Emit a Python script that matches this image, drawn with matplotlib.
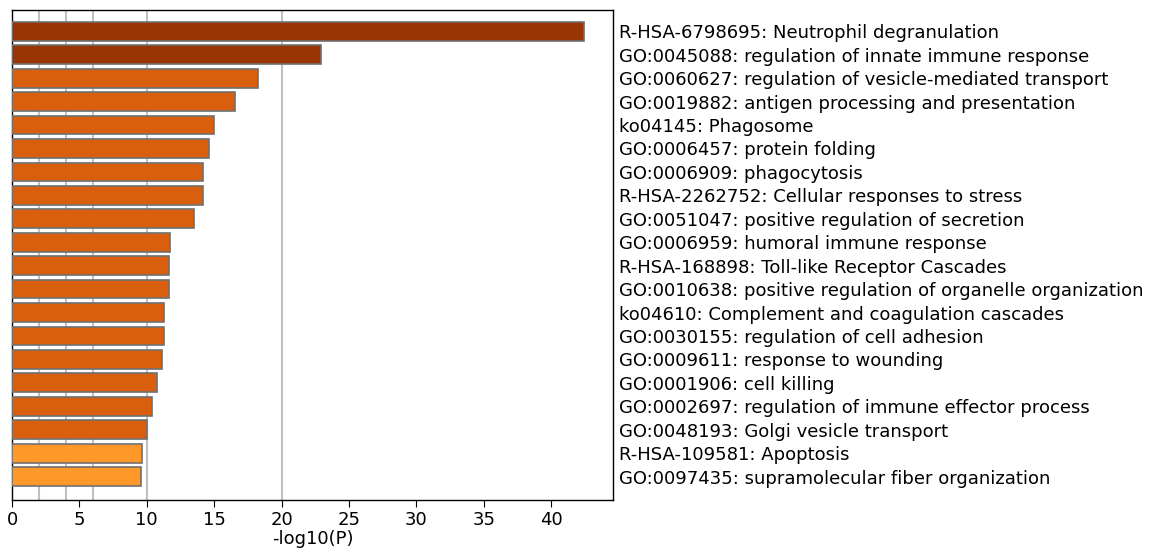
import matplotlib
matplotlib.use("Agg")
import matplotlib.pyplot as plt

terms = [
    "R-HSA-6798695: Neutrophil degranulation",
    "GO:0045088: regulation of innate immune response",
    "GO:0060627: regulation of vesicle-mediated transport",
    "GO:0019882: antigen processing and presentation",
    "ko04145: Phagosome",
    "GO:0006457: protein folding",
    "GO:0006909: phagocytosis",
    "R-HSA-2262752: Cellular responses to stress",
    "GO:0051047: positive regulation of secretion",
    "GO:0006959: humoral immune response",
    "R-HSA-168898: Toll-like Receptor Cascades",
    "GO:0010638: positive regulation of organelle organization",
    "ko04610: Complement and coagulation cascades",
    "GO:0030155: regulation of cell adhesion",
    "GO:0009611: response to wounding",
    "GO:0001906: cell killing",
    "GO:0002697: regulation of immune effector process",
    "GO:0048193: Golgi vesicle transport",
    "R-HSA-109581: Apoptosis",
    "GO:0097435: supramolecular fiber organization",
]
neg_log10_p = [42.46, 22.92, 18.26, 16.56, 14.95, 14.58, 14.18, 14.18, 13.51, 11.71,
               11.61, 11.61, 11.28, 11.28, 11.11, 10.72, 10.42, 10.02, 9.65, 9.55]
gridlines = [2, 4, 6, 10, 20]
xticks = [0, 5, 10, 15, 20, 25, 30, 35, 40]

def color_for(v):
    if v >= 20:
        return "#993404"
    if v >= 10:
        return "#d95f0e"
    return "#fe9929"

fig = plt.figure(figsize=(11.53, 5.58), dpi=100)
ax = fig.add_axes([12/1153, 58/558, (613-12)/1153, (500-9.5)/558])

n = len(terms)
ypos = list(range(n))
ax.barh(ypos, neg_log10_p, height=0.8, color=[color_for(v) for v in neg_log10_p],
        edgecolor="#707070", linewidth=1.2, zorder=3)
for g in gridlines:
    ax.axvline(g, color="#c0c0c0", linewidth=1.5, zorder=1)

ax.set_ylim(n - 1 + 0.4 + 0.6, -0.4 - 0.53)
ax.set_xlim(0, max(neg_log10_p) * 1.05)
ax.set_xticks(xticks)
ax.set_xticklabels([str(t) for t in xticks], fontsize=13)
ax.set_xlabel("-log10(P)", fontsize=13, labelpad=1)
ax.yaxis.tick_right()
ax.set_yticks(ypos)
ax.set_yticklabels(terms, fontsize=13)
ax.tick_params(axis="y", length=0, pad=4)
ax.tick_params(axis="x", length=5, direction="out", pad=3)
for s in ax.spines.values():
    s.set_linewidth(1.0)

fig.savefig("out.png", dpi=100)
